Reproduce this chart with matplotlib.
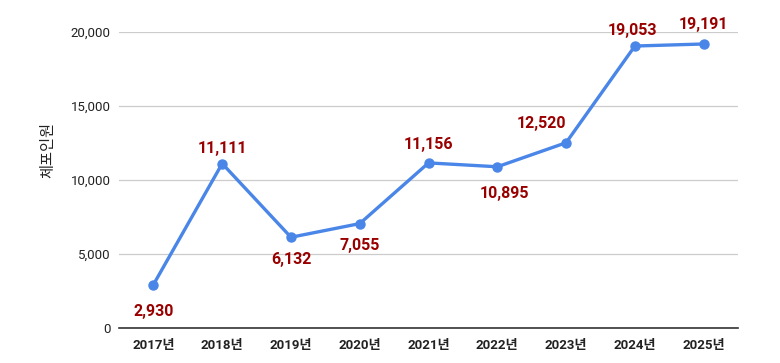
import matplotlib.pyplot as plt
import matplotlib.ticker as mticker

years = ["2017년", "2018년", "2019년", "2020년", "2021년", "2022년", "2023년", "2024년", "2025년"]
arrests = [2930, 11111, 6132, 7055, 11156, 10895, 12520, 19053, 19191]

# label offsets in points (x, y), picked by eye from the reference
label_offsets = [(0, -19), (0, 11), (0, -16), (0, -16), (0, 13), (5, -19), (-18, 14), (-2, 11), (0, 14)]

fonts = ["Roboto", "Noto Sans CJK KR", "DejaVu Sans"]
plt.rcParams["font.family"] = fonts

fig = plt.figure(figsize=(7.8, 3.63), dpi=100)
ax = fig.add_axes([0.1526, 0.0964, 0.7936, 0.8154])

x = list(range(len(years)))
ax.plot(x, arrests, color="#4a86e8", linewidth=2.4, marker="o", markersize=6.5, zorder=3)

for xi, v, off in zip(x, arrests, label_offsets):
    ax.annotate(f"{v:,}", (xi, v), xytext=off, textcoords="offset points",
                ha="center", va="center", fontsize=11.5, fontweight="bold",
                color="#990000", zorder=4, annotation_clip=False)

ax.set_xlim(-0.5, len(years) - 0.5)
ax.set_ylim(0, 20000)
ax.set_yticks([0, 5000, 10000, 15000, 20000])
ax.yaxis.set_major_formatter(mticker.FuncFormatter(lambda v, p: f"{int(v):,}"))
ax.set_xticks(x)
ax.set_xticklabels(years, fontweight="bold")

ax.grid(axis="y", color="#cccccc", linewidth=0.9)
ax.set_axisbelow(True)
for s in ["top", "right", "left"]:
    ax.spines[s].set_visible(False)
ax.spines["bottom"].set_color("#333333")
ax.spines["bottom"].set_linewidth(1.2)
ax.tick_params(axis="both", length=0, labelsize=9.5, colors="#222222")
ax.tick_params(axis="y", pad=6)
ax.tick_params(axis="x", pad=8)

ax.set_ylabel("체포인원", fontsize=11, color="#222222")
ax.yaxis.set_label_coords(-0.103, 0.6)

fig.savefig("out.png", dpi=100)
